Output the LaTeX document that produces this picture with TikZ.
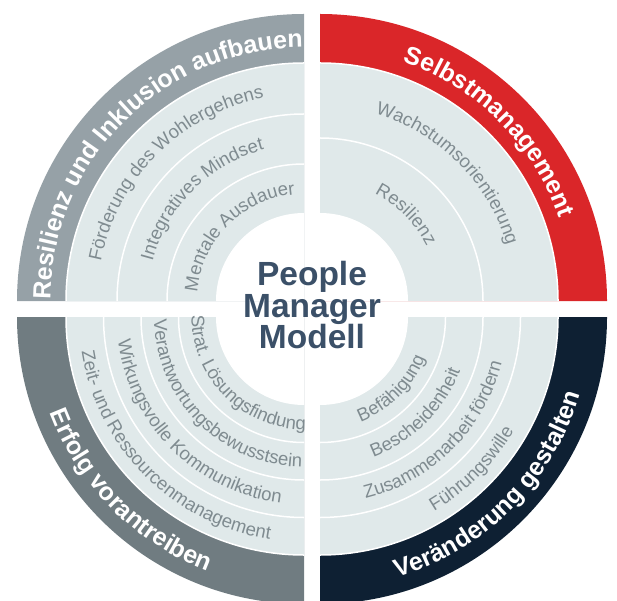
\documentclass[tikz,border=0pt]{standalone}
\usepackage{fontspec}
\setmainfont{Liberation Sans}
\usetikzlibrary{decorations.text}
\definecolor{bandTL}{HTML}{96A1A7}
\definecolor{bandTR}{HTML}{DA2629}
\definecolor{bandBL}{HTML}{707C81}
\definecolor{bandBR}{HTML}{0E2033}
\definecolor{lightring}{HTML}{E0E9EA}
\definecolor{ringtxt}{HTML}{7F8B90}
\definecolor{centertxtcol}{HTML}{3B5068}
\newcommand\bandfnt{\fontsize{25}{25}\selectfont\bfseries\color{white}}
\newcommand\ringfnt{\fontsize{18.5}{18.5}\selectfont\color{ringtxt}}
\begin{document}
\begin{tikzpicture}[x=1pt,y=1pt,
  ringtext/.style={decorate, decoration={text along path, text align=center, text={|\ringfnt|#1}}},
  bandtext/.style={decorate, decoration={text along path, text align=center, text={|\bandfnt|#1}}},
  sep/.style={draw=white, line width=1.5pt},
  centertxt/.style={font=\fontsize{33.5}{33.5}\selectfont\bfseries, text=centertxtcol, inner sep=0pt}]
\useasboundingbox (0,0) rectangle (617,600);
\coordinate (TL) at (304,299);
\coordinate (TR) at (320,299);
\coordinate (BL) at (304,283);
\coordinate (BR) at (320,283);

% ---------- top left quadrant ----------
\fill[bandTL] (TL) -- ([shift={(180:287)}]TL) arc[start angle=180,end angle=90,radius=287] -- cycle;
\fill[lightring] (TL) -- ([shift={(180:238)}]TL) arc[start angle=180,end angle=90,radius=238] -- cycle;
\path[sep] ([shift={(180:238)}]TL) arc[start angle=180,end angle=90,radius=238];
\path[sep] ([shift={(180:187)}]TL) arc[start angle=180,end angle=90,radius=187];
\path[sep] ([shift={(180:137)}]TL) arc[start angle=180,end angle=90,radius=137];
\fill[white] (TL) -- ([shift={(180:88)}]TL) arc[start angle=180,end angle=90,radius=88] -- cycle;

% ---------- top right quadrant ----------
\fill[bandTR] (TR) -- ([shift={(90:287)}]TR) arc[start angle=90,end angle=0,radius=287] -- cycle;
\fill[lightring] (TR) -- ([shift={(90:238)}]TR) arc[start angle=90,end angle=0,radius=238] -- cycle;
\path[sep] ([shift={(90:238)}]TR) arc[start angle=90,end angle=0,radius=238];
\path[sep] ([shift={(90:163)}]TR) arc[start angle=90,end angle=0,radius=163];
\fill[white] (TR) -- ([shift={(90:88)}]TR) arc[start angle=90,end angle=0,radius=88] -- cycle;

% ---------- bottom left quadrant ----------
\fill[bandBL] (BL) -- ([shift={(180:287)}]BL) arc[start angle=180,end angle=270,radius=287] -- cycle;
\fill[lightring] (BL) -- ([shift={(180:238)}]BL) arc[start angle=180,end angle=270,radius=238] -- cycle;
\path[sep] ([shift={(180:238)}]BL) arc[start angle=180,end angle=270,radius=238];
\path[sep] ([shift={(180:200.5)}]BL) arc[start angle=180,end angle=270,radius=200.5];
\path[sep] ([shift={(180:163)}]BL) arc[start angle=180,end angle=270,radius=163];
\path[sep] ([shift={(180:125.5)}]BL) arc[start angle=180,end angle=270,radius=125.5];
\fill[white] (BL) -- ([shift={(180:88)}]BL) arc[start angle=180,end angle=270,radius=88] -- cycle;

% ---------- bottom right quadrant ----------
\fill[bandBR] (BR) -- ([shift={(270:287)}]BR) arc[start angle=270,end angle=360,radius=287] -- cycle;
\fill[lightring] (BR) -- ([shift={(270:238)}]BR) arc[start angle=270,end angle=360,radius=238] -- cycle;
\path[sep] ([shift={(270:238)}]BR) arc[start angle=270,end angle=360,radius=238];
\path[sep] ([shift={(270:200.5)}]BR) arc[start angle=270,end angle=360,radius=200.5];
\path[sep] ([shift={(270:163)}]BR) arc[start angle=270,end angle=360,radius=163];
\path[sep] ([shift={(270:125.5)}]BR) arc[start angle=270,end angle=360,radius=125.5];
\fill[white] (BR) -- ([shift={(270:88)}]BR) arc[start angle=270,end angle=360,radius=88] -- cycle;

% ---------- curved texts: top left ----------
\path[bandtext={Resilienz und Inklusion aufbauen}] ([shift={(215:253.5)}]TL) arc[start angle=215,end angle=55,radius=253.5];
\path[ringtext={Förderung des Wohlergehens}] ([shift={(215:207)}]TL) arc[start angle=215,end angle=55,radius=207];
\path[ringtext={Integratives Mindset}] ([shift={(215:156.5)}]TL) arc[start angle=215,end angle=55,radius=156.5];
\path[ringtext={Mentale Ausdauer}] ([shift={(215:107)}]TL) arc[start angle=215,end angle=55,radius=107];

% ---------- curved texts: top right ----------
\path[bandtext={Selbstmanagement}] ([shift={(125:253.5)}]TR) arc[start angle=125,end angle=-35,radius=253.5];
\path[ringtext={Wachstumsorientierung}] ([shift={(125:195)}]TR) arc[start angle=125,end angle=-35,radius=195];
\path[ringtext={Resilienz}] ([shift={(125:120)}]TR) arc[start angle=125,end angle=-35,radius=120];

% ---------- curved texts: bottom left ----------
\path[bandtext={Erfolg vorantreiben}] ([shift={(145:271.5)}]BL) arc[start angle=145,end angle=305,radius=271.5];
\path[ringtext={Zeit- und Ressourcenmanagement}] ([shift={(145:225)}]BL) arc[start angle=145,end angle=305,radius=225];
\path[ringtext={Wirkungsvolle Kommunikation}] ([shift={(145:187.5)}]BL) arc[start angle=145,end angle=305,radius=187.5];
\path[ringtext={Verantwortungsbewusstsein}] ([shift={(145:150)}]BL) arc[start angle=145,end angle=305,radius=150];
\path[ringtext={Strat. Lösungsfindung}] ([shift={(145:112.5)}]BL) arc[start angle=145,end angle=305,radius=112.5];

% ---------- curved texts: bottom right ----------
\path[bandtext={Veränderung gestalten}] ([shift={(235:271.5)}]BR) arc[start angle=235,end angle=395,radius=271.5];
\path[ringtext={Führungswille}] ([shift={(235:225)}]BR) arc[start angle=235,end angle=395,radius=225];
\path[ringtext={Zusammenarbeit fördern}] ([shift={(235:187.5)}]BR) arc[start angle=235,end angle=395,radius=187.5];
\path[ringtext={Bescheidenheit}] ([shift={(235:150)}]BR) arc[start angle=235,end angle=395,radius=150];
\path[ringtext={Befähigung}] ([shift={(235:112.5)}]BR) arc[start angle=235,end angle=395,radius=112.5];

% ---------- centre ----------
\node[centertxt, anchor=base] (c1) at (312,314) {People};
\node[centertxt, anchor=base] (c2) at (312,283) {Manager};
\node[centertxt, anchor=base] (c3) at (312,252) {Modell};
\end{tikzpicture}
\end{document}
